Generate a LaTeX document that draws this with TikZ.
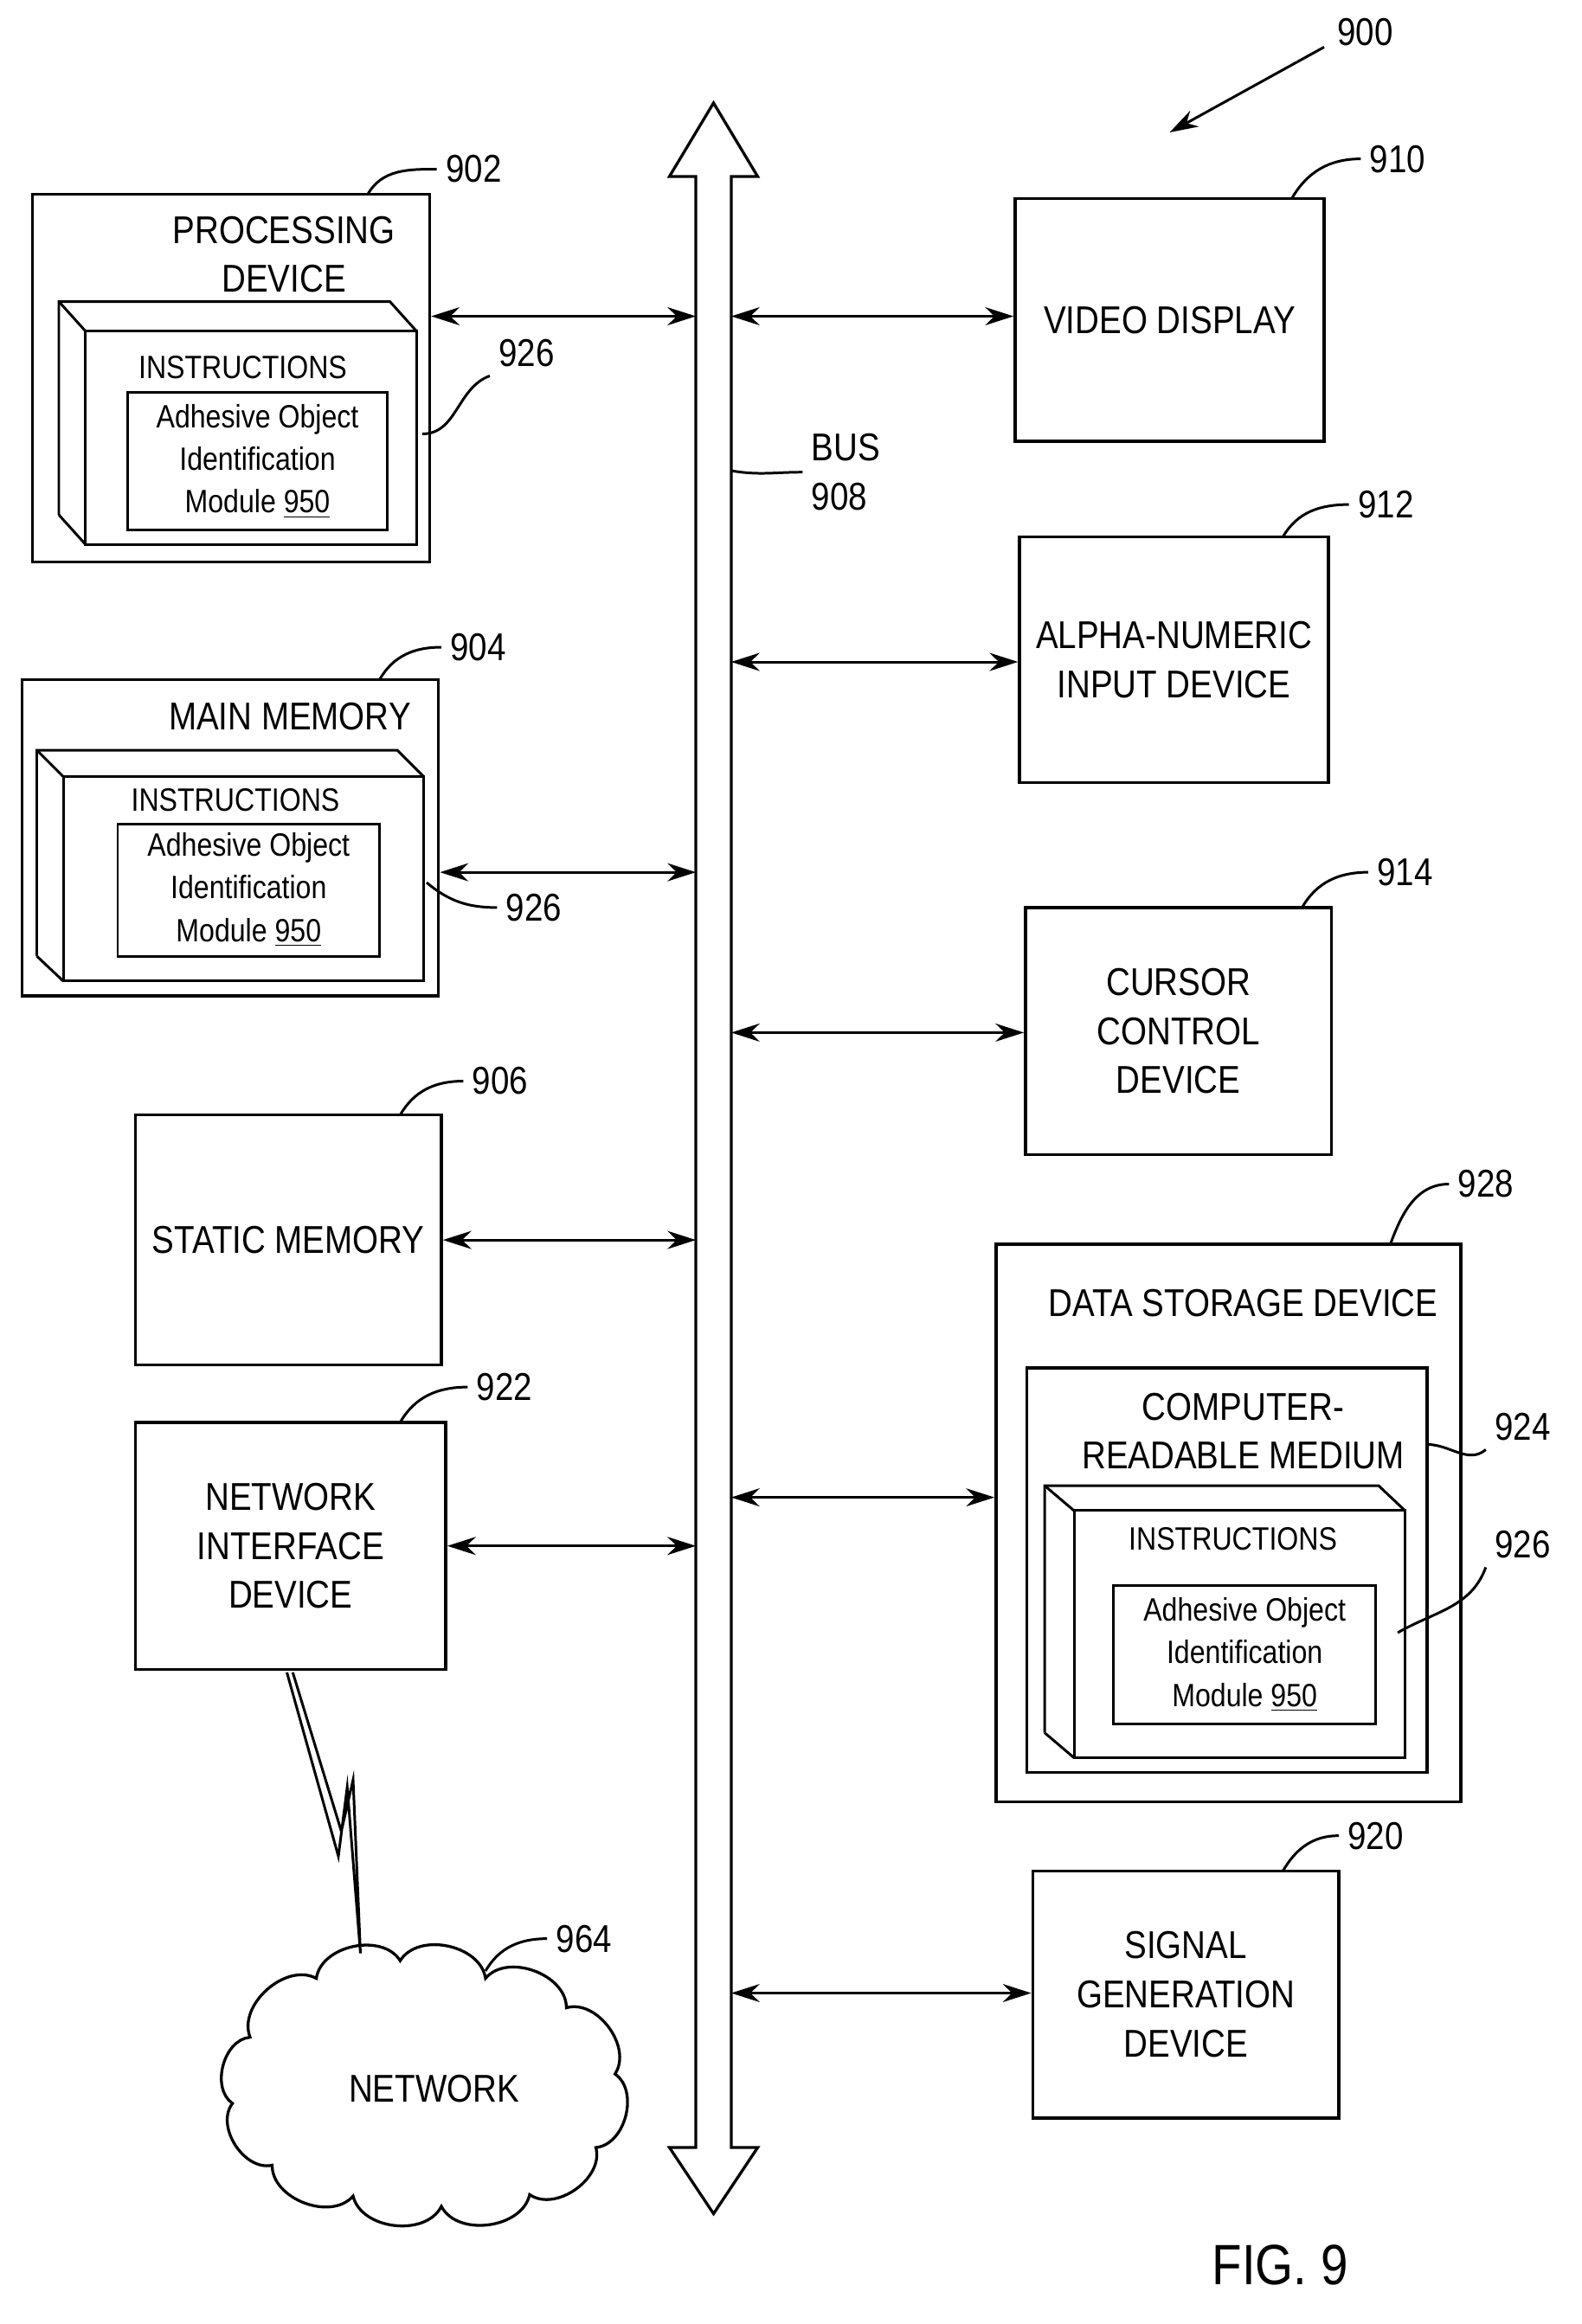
\documentclass[tikz,border=0pt]{standalone}
\usepackage{fontspec}
\setmainfont[FakeStretch=0.86]{Liberation Sans}
\usetikzlibrary{arrows.meta,fit,positioning}
\tikzset{
  box/.style={draw, line width=1.2pt, inner sep=0pt},
  link/.style={{Stealth[length=11pt,width=7pt]}-{Stealth[length=11pt,width=7pt]}, line width=1pt},
  lead/.style={line width=1pt},
  txt/.style={font=\fontsize{15}{19}\selectfont, align=center},
  small/.style={font=\fontsize{12.5}{16.5}\selectfont, align=center},
  num/.style={font=\fontsize{15}{19}\selectfont}
}
\begin{document}
\begin{tikzpicture}[x=0.02cm,y=-0.02cm]
\useasboundingbox (0,0) rectangle (1075,1580);
% bus
\draw[line width=1.1pt] (473,120) -- (455,120) -- (485,70) -- (515,120) -- (497,120)
  -- (497,1460) -- (515,1460) -- (485,1505) -- (455,1460) -- (473,1460) -- cycle;
\coordinate (busl) at (473,0);
\coordinate (busr) at (497,0);
% 900
\node[num] (n900) at (928,22) {900};
\draw[lead,-{Stealth[length=11pt,width=7pt]}] (900,32) -- (795,90);

% processing device
\node[box, fit={(22,132)(292,382)}] (pd) {};
\node[txt] at (193,173) {PROCESSING\\DEVICE};
\draw[line width=1pt] (40,350) -- (40,205) -- (265,205) -- (283,225);
\draw[line width=1pt] (40,205) -- (58,225); \draw[line width=1pt] (40,350) -- (58,370);
\node[box, line width=1pt, fit={(58,225)(283,370)}] (pdi) {};
\node[small] at (165,250) {INSTRUCTIONS};
\node[box, line width=1pt, fit={(87,267)(263,360)}] (pdm) {};
\node[small] at (pdm) {Adhesive Object\\Identification\\Module \underline{950}};
\node[num] (n902) at (322,115) {902};
\draw[lead] (250,132) to[out=60,in=180] (n902.west);
\node[num] (n926a) at (358,240) {926};
\draw[lead] (287,295) to[out=0,in=200] (n926a.south west);
\draw[link] (pd.east |- 0,215) -- (busl |- 0,215);

% video display
\node[box, fit={(690,135)(900,300)}] (vd) {};
\node[txt] at (vd) {VIDEO DISPLAY};
\node[num] (n910) at (950,108) {910};
\draw[lead] (878,135) to[out=60,in=180] (n910.west);
\draw[link] (busr |- 0,215) -- (vd.west |- 0,215);

% bus label
\node[txt, align=left] (bus) at (575,321) {BUS\\908};
\draw[lead] (497,320) to[out=-10,in=180] (bus.west);

% alpha-numeric
\node[box, fit={(693,365)(903,532)}] (an) {};
\node[txt] at (an) {ALPHA-NUMERIC\\INPUT DEVICE};
\node[num] (n912) at (942,343) {912};
\draw[lead] (872,365) to[out=60,in=180] (n912.west);
\draw[link] (busr |- 0,450) -- (an.west |- 0,450);

% main memory
\node[box, fit={(15,462)(298,677)}] (mm) {};
\node[txt] at (197,487) {MAIN MEMORY};
\draw[line width=1pt] (25,650) -- (25,510) -- (270,510) -- (288,528);
\draw[line width=1pt] (25,510) -- (43,528); \draw[line width=1pt] (25,650) -- (43,667);
\node[box, line width=1pt, fit={(43,528)(288,667)}] (mmi) {};
\node[small] at (160,544) {INSTRUCTIONS};
\node[box, line width=1pt, fit={(80,560)(258,650)}] (mmm) {};
\node[small] at (mmm) {Adhesive Object\\Identification\\Module \underline{950}};
\node[num] (n904) at (325,440) {904};
\draw[lead] (258,462) to[out=60,in=180] (n904.west);
\node[num] (n926b) at (363,617) {926};
\draw[lead] (290,600) to[out=-40,in=180] (n926b.west);
\draw[link] (mm.east |- 0,593) -- (busl |- 0,593);

% cursor control
\node[box, fit={(697,617)(905,785)}] (cc) {};
\node[txt] at (cc) {CURSOR\\CONTROL\\DEVICE};
\node[num] (n914) at (955,593) {914};
\draw[lead] (885,617) to[out=60,in=180] (n914.west);
\draw[link] (busr |- 0,702) -- (cc.west |- 0,702);

% static memory
\node[box, fit={(92,758)(300,928)}] (sm) {};
\node[txt] at (sm) {STATIC MEMORY};
\node[num] (n906) at (340,735) {906};
\draw[lead] (272,758) to[out=60,in=180] (n906.west);
\draw[link] (sm.east |- 0,843) -- (busl |- 0,843);

% data storage
\node[box, fit={(677,846)(993,1225)}] (ds) {};
\node[txt] at (845,886) {DATA STORAGE DEVICE};
\node[num] (n928) at (1010,805) {928};
\draw[lead] (945,846) to[out=70,in=180] (n928.west);
\node[box, fit={(698,930)(970,1205)}] (crm) {};
\node[txt] at (845,973) {COMPUTER-\\READABLE MEDIUM};
\node[num] (n924) at (1035,970) {924};
\draw[lead] (970,982) to[out=0,in=220] (n924.south west);
\draw[line width=1pt] (710,1178) -- (710,1010) -- (937,1010) -- (955,1027);
\draw[line width=1pt] (710,1010) -- (730,1027); \draw[line width=1pt] (710,1178) -- (730,1195);
\node[box, line width=1pt, fit={(730,1027)(955,1195)}] (dsi) {};
\node[small] at (838,1046) {INSTRUCTIONS};
\node[box, line width=1pt, fit={(757,1078)(935,1172)}] (dsm) {};
\node[small] at (dsm) {Adhesive Object\\Identification\\Module \underline{950}};
\node[num] (n926c) at (1035,1050) {926};
\draw[lead] (950,1110) to[out=30,in=250] (n926c.south west);
\draw[link] (busr |- 0,1018) -- (ds.west |- 0,1018);

% network interface
\node[box, fit={(92,967)(303,1135)}] (ni) {};
\node[txt] at (ni) {NETWORK\\INTERFACE\\DEVICE};
\node[num] (n922) at (343,943) {922};
\draw[lead] (272,967) to[out=60,in=180] (n922.west);
\draw[link] (ni.east |- 0,1051) -- (busl |- 0,1051);

% signal generation
\node[box, fit={(702,1272)(910,1440)}] (sg) {};
\node[txt] at (sg) {SIGNAL\\GENERATION\\DEVICE};
\node[num] (n920) at (935,1248) {920};
\draw[lead] (872,1272) to[out=60,in=180] (n920.west);
\draw[link] (busr |- 0,1355) -- (sg.west |- 0,1355);

% network cloud
\draw[line width=1.1pt] (170,1385) to[bend left=70] (215,1345) to[bend left=70] (272,1333)
  to[bend left=70] (330,1345) to[bend left=70] (385,1365) to[bend left=70] (418,1410)
  to[bend left=70] (405,1460) to[bend left=70] (360,1492) to[bend left=70] (300,1500)
  to[bend left=70] (240,1493) to[bend left=70] (185,1472) to[bend left=70] (158,1430)
  to[bend left=70] cycle;
\node[txt] (net) at (295,1420) {NETWORK};
\node[num] (n964) at (397,1318) {964};
\draw[lead] (330,1340) to[out=60,in=180] (n964.west);
\draw[line width=1pt] (195,1137) -- (230,1262) -- (236,1215) -- (245,1328) -- (240,1210) -- (232,1245) -- (199,1137);

\node[font=\fontsize{22}{26}\selectfont] (fig) at (870,1540) {FIG. 9};
\end{tikzpicture}
\end{document}
